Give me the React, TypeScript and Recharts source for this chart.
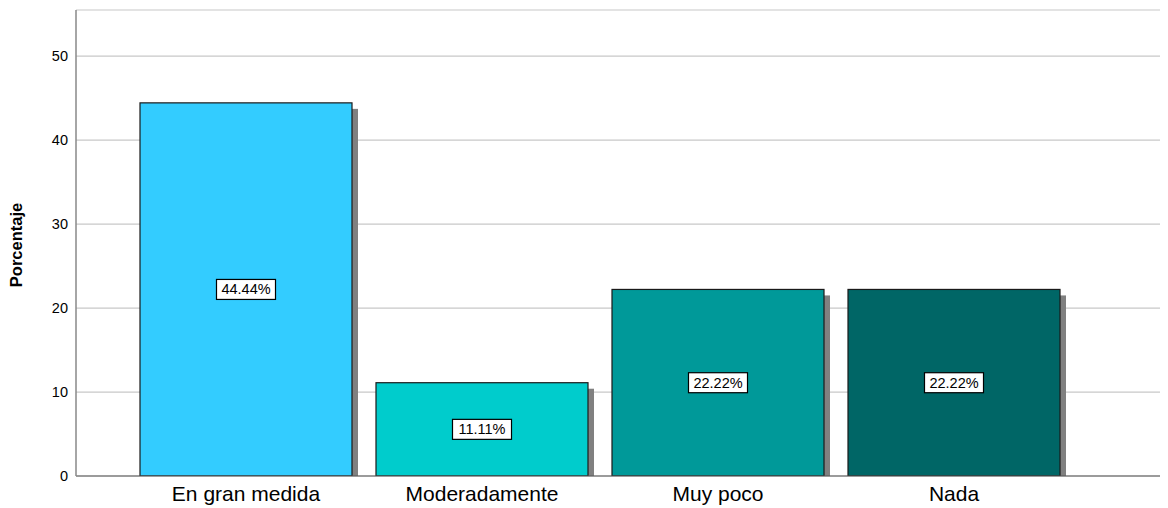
import React from "react";
import { BarChart, Bar, XAxis, YAxis, CartesianGrid, Cell, LabelList } from "recharts";

const categories = ["En gran medida", "Moderadamente", "Muy poco", "Nada"];
const percentages = [44.44, 11.11, 22.22, 22.22];
const barColors = ["#33CCFF", "#00CCCC", "#009999", "#006666"];
const yTicks = [0, 10, 20, 30, 40, 50];
const titleText = "formación de los estudiantes?";
const yAxisTitle = "Porcentaje";

const data = categories.map((name, i) => ({ name, value: percentages[i] }));

const SHADOW = 6;
const FONT = "Liberation Sans, Arial, sans-serif";

const ShadowBar = (props: any) => {
  const { x, y, width, height, fill } = props;
  if (height <= 0) return null;
  return (
    <g>
      <rect x={x + SHADOW} y={y + SHADOW} width={width} height={height} fill="#808080" />
      <rect x={x} y={y} width={width} height={height} fill={fill} stroke="#1a1a1a" strokeWidth={1.2} />
    </g>
  );
};

const BoxLabel = (props: any) => {
  const { x, y, width, height, value } = props;
  const cx = x + width / 2;
  const cy = y + height / 2;
  const text = `${Number(value).toFixed(2)}%`;
  const w = 59;
  const h = 20;
  return (
    <g>
      <rect x={cx - w / 2} y={cy - h / 2} width={w} height={h} fill="#fff" stroke="#000" strokeWidth={1.2} />
      <text x={cx} y={cy + 5} textAnchor="middle" fontSize={14.5} fill="#000" fontFamily={FONT}>
        {text}
      </text>
    </g>
  );
};

export default function App() {
  return (
    <div style={{ position: "relative", top: -8, left: -8, width: 1168, height: 508, background: "#fff", fontFamily: FONT }}>
      <BarChart
        width={1168}
        height={508}
        data={data}
        margin={{ top: 10, right: 0, bottom: 0, left: 0 }}
        barCategoryGap={12}
      >
        <text x={585} y={4} textAnchor="middle" fontSize={22} fontWeight="bold" fill="#000" fontFamily={FONT}>
          {titleText}
        </text>
        <text
          x={0}
          y={0}
          transform="translate(22, 245) rotate(-90)"
          textAnchor="middle"
          fontSize={16.5}
          fontWeight="bold"
          fill="#000"
          fontFamily={FONT}
        >
          {yAxisTitle}
        </text>
        <CartesianGrid vertical={false} stroke="#c8c8c8" strokeWidth={1.2} />
        <XAxis
          dataKey="name"
          padding={{ left: 52, right: 96 }}
          height={32}
          tickLine={false}
          axisLine={{ stroke: "#555", strokeWidth: 1.2 }}
          tick={{ fontSize: 21, fill: "#000", fontFamily: FONT }}
          tickMargin={4}
        />
        <YAxis
          width={76}
          domain={[0, 55.5]}
          ticks={yTicks}
          tickLine={false}
          axisLine={{ stroke: "#888", strokeWidth: 1.5 }}
          tick={{ fontSize: 14.5, fill: "#000", fontFamily: FONT }}
          tickMargin={2}
          allowDataOverflow
        />
        <Bar dataKey="value" isAnimationActive={false} shape={<ShadowBar />}>
          {data.map((d, i) => (
            <Cell key={d.name} fill={barColors[i]} />
          ))}
          <LabelList dataKey="value" content={<BoxLabel />} />
        </Bar>
      </BarChart>
    </div>
  );
}
